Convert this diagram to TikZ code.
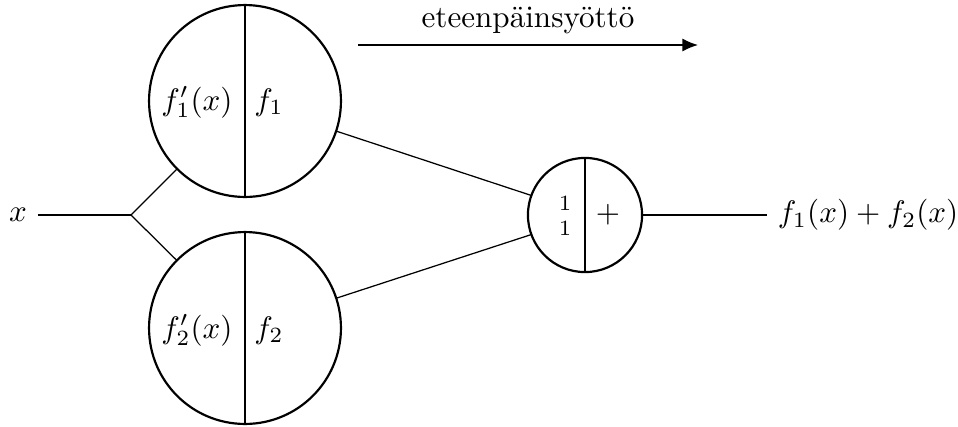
\documentclass[tikz,border=0pt]{standalone}
\usetikzlibrary{arrows.meta}
\begin{document}
\begin{tikzpicture}[x=0.3215pt,y=-0.3215pt,
  bigc/.style={circle,draw,line width=0.7pt,minimum size=61.7pt,inner sep=0pt,outer sep=0pt},
  smallc/.style={circle,draw,line width=0.7pt,minimum size=36.7pt,inner sep=0pt,outer sep=0pt},
  divider/.style={line width=0.7pt},
  conn/.style={line width=0.4pt},
  lbl/.style={inner sep=0pt,anchor=base}]
\useasboundingbox (0,0) rectangle (958,426);
% circles
\node[bigc] (c1) at (245,101) {};
\node[bigc] (c2) at (245,328) {};
\node[smallc] (sum) at (585,215) {};
\draw[divider] (c1.north) -- (c1.south);
\draw[divider] (c2.north) -- (c2.south);
\draw[divider] (sum.north) -- (sum.south);
% texts in circles
\node[lbl] (t1a) at (197,110) {$f_1'(x)$};
\node[lbl] (t1b) at (269,110) {$f_1$};
\node[lbl] (t2a) at (197,338) {$f_2'(x)$};
\node[lbl] (t2b) at (269,338) {$f_2$};
\node[lbl] (s1) at (565,210) {\scriptsize $1$};
\node[lbl] (s2) at (565,235) {\scriptsize $1$};
\node[inner sep=0pt] (splus) at (608,215) {$+$};
% input
\node (xl) at (18,215) {$x$};
\coordinate (br) at (131,215);
\draw[conn] (xl) -- (br);
\draw[conn] (br) -- (c1);
\draw[conn] (br) -- (c2);
% to sum
\draw[conn] (c1) -- (sum.160);
\draw[conn] (c2) -- (sum.200);
% output
\node[anchor=west] (out) at (767,215) {$f_1(x)+f_2(x)$};
\draw[conn] (sum) -- (out);
% feedforward arrow
\coordinate (a1) at (358,45);
\coordinate (a2) at (698,45);
\draw[line width=0.5pt,-{Latex[length=5pt,width=4.2pt]}] (a1) -- (a2);
\node[lbl] (ff) at (528,27) {eteenpäinsyöttö};
\end{tikzpicture}
\end{document}
